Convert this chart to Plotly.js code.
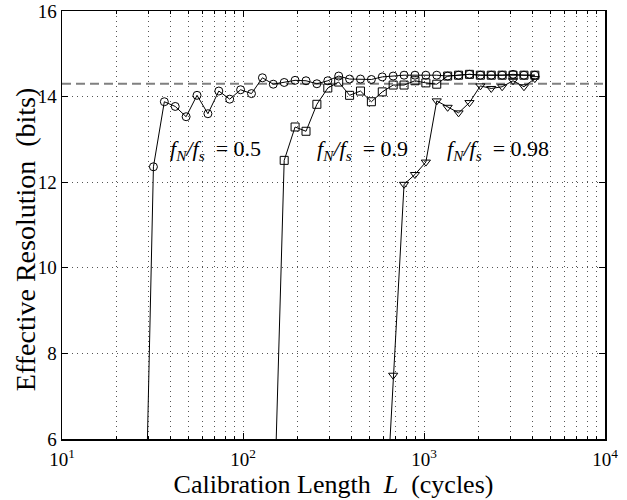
<!DOCTYPE html>
<html>
<head>
<meta charset="utf-8">
<script src="https://cdn.plot.ly/plotly-3.0.1.min.js"></script>
<style>html,body{margin:0;padding:0;background:#fff;}#chart{width:627px;height:500px;}</style>
</head>
<body>
<div id="chart"></div>
<script>
// Calibration lengths L (cycles) for each series (first point lies below the axis range)
const L_05  = [27.86, 32, 36.76, 42.22, 48.50, 55.72, 64, 73.52, 84.45, 97.01, 111.4, 128, 147.0, 168.9, 194.0, 222.9, 256, 294.1, 337.8, 388.0, 445.7, 512, 588.1, 675.6, 776.0, 891.4, 1024, 1176, 1351, 1552, 1783, 2048, 2353, 2702, 3104, 3566, 4096];
const res_05 = [0.8, 12.36, 13.88, 13.77, 13.53, 14.03, 13.60, 14.13, 13.94, 14.16, 14.07, 14.44, 14.29, 14.33, 14.38, 14.37, 14.30, 14.37, 14.48, 14.41, 14.41, 14.40, 14.46, 14.48, 14.50, 14.50, 14.50, 14.50, 14.48, 14.50, 14.52, 14.50, 14.50, 14.50, 14.52, 14.50, 14.50];

const L_09  = [147.0, 168.9, 194.0, 222.9, 256, 294.1, 337.8, 388.0, 445.7, 512, 588.1, 675.6, 776.0, 891.4, 1024, 1176, 1351, 1552, 1783, 2048, 2353, 2702, 3104, 3566, 4096];
const res_09 = [3.6, 12.51, 13.29, 13.19, 13.82, 14.20, 14.34, 14.03, 14.13, 13.88, 14.11, 14.27, 14.27, 14.37, 14.32, 14.29, 14.48, 14.50, 14.52, 14.50, 14.50, 14.50, 14.50, 14.50, 14.50];

const L_098 = [588.1, 675.6, 776.0, 891.4, 1024, 1176, 1351, 1552, 1783, 2048, 2353, 2702, 3104, 3566, 4096];
const res_098 = [2.7, 7.49, 11.95, 12.18, 12.47, 13.90, 13.75, 13.62, 13.86, 14.25, 14.19, 14.23, 14.37, 14.23, 14.42];

const refLevel = 14.30;
const labels = ['<i>f</i><sub><i>N</i></sub><i>/f</i><sub><i>s</i></sub>&nbsp; = 0.5',
                '<i>f</i><sub><i>N</i></sub><i>/f</i><sub><i>s</i></sub>&nbsp; = 0.9',
                '<i>f</i><sub><i>N</i></sub><i>/f</i><sub><i>s</i></sub>&nbsp; = 0.98'];
const xTickVals = [10, 100, 1000, 10000];
const xTickText = ['10<sup>1</sup>', '10<sup>2</sup>', '10<sup>3</sup>', '10<sup>4</sup>'];
const yTickVals = [6, 8, 10, 12, 14, 16];
const xTitle = 'Calibration Length &nbsp;<i>L</i>&nbsp; (cycles)';
const yTitle = 'Effective Resolution &nbsp;(bits)';

const minorVals = [];
for (let d = 10; d < 10000; d *= 10) for (let m = 2; m <= 9; m++) minorVals.push(m * d);

const FONT = 'Liberation Serif, Times New Roman, serif';
const GRIDC = '#555';
const GRIDDASH = '1px,4px';
function series(x, y, sym) {
  return {x: x, y: y, type: 'scatter', mode: 'lines+markers',
    line: {color: '#000', width: 1},
    marker: {symbol: sym, size: 8, color: '#000', line: {color: '#000', width: 1}},
    showlegend: false, cliponaxis: true};
}
const data = [
  series(L_05, res_05, 'circle-open'),
  series(L_09, res_09, 'square-open'),
  series(L_098, res_098, 'triangle-down-open')
];
const layout = {
  width: 627, height: 500,
  margin: {l: 62, r: 22, t: 11, b: 61},
  paper_bgcolor: '#fff', plot_bgcolor: '#fff',
  font: {family: FONT, color: '#000', size: 19},
  xaxis: {type: 'log', range: [1, 4], tickmode: 'array', tickvals: xTickVals, ticktext: xTickText,
    ticks: 'inside', ticklen: 6, tickcolor: '#000', mirror: 'allticks', showline: true, linecolor: '#000', linewidth: 1.5,
    showgrid: true, gridcolor: GRIDC, griddash: GRIDDASH, gridwidth: 1, zeroline: false,
    tickfont: {size: 19, family: FONT}, ticklabelstandoff: 3,
    minor: {tickmode: 'array', tickvals: minorVals, ticks: 'inside', ticklen: 3, tickcolor: '#000',
      showgrid: true, gridcolor: GRIDC, griddash: GRIDDASH, gridwidth: 1},
    title: {text: xTitle, font: {size: 26, family: FONT}, standoff: 2}},
  yaxis: {range: [6, 16], tickmode: 'array', tickvals: yTickVals,
    ticks: 'inside', ticklen: 6, tickcolor: '#000', mirror: 'allticks', showline: true, linecolor: '#000', linewidth: 1.5,
    showgrid: true, gridcolor: GRIDC, griddash: GRIDDASH, gridwidth: 1, zeroline: false,
    tickfont: {size: 19, family: FONT}},
  shapes: [{type: 'line', xref: 'paper', yref: 'y', x0: 0, x1: 1, y0: refLevel, y1: refLevel,
    line: {color: '#808080', width: 2, dash: '9px,5px'}, layer: 'below'}],
  annotations: [
    {text: yTitle, xref: 'paper', yref: 'paper', x: -0.068, y: 0.467, xanchor: 'center', yanchor: 'middle', textangle: -90, showarrow: false, font: {size: 28, family: FONT}},
    {text: labels[0], xref: 'paper', yref: 'paper', x: 0.195, y: 0.675, xanchor: 'left', yanchor: 'middle', showarrow: false, font: {size: 22, family: FONT}},
    {text: labels[1], xref: 'paper', yref: 'paper', x: 0.466, y: 0.675, xanchor: 'left', yanchor: 'middle', showarrow: false, font: {size: 22, family: FONT}},
    {text: labels[2], xref: 'paper', yref: 'paper', x: 0.705, y: 0.675, xanchor: 'left', yanchor: 'middle', showarrow: false, font: {size: 22, family: FONT}}
  ]
};
Plotly.newPlot('chart', data, layout, {displayModeBar: false, staticPlot: true});
</script>
</body>
</html>
